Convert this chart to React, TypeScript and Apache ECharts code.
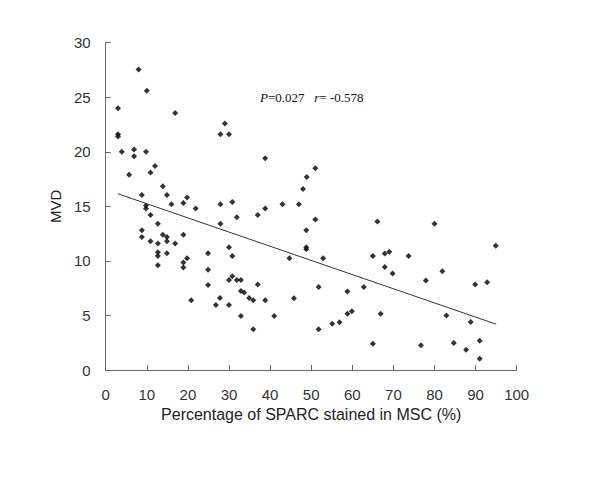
import React, { useEffect, useRef } from "react";
import * as echarts from "echarts";

const sparcPct: number[] = [
  8.0, 10.0, 3.0, 16.9, 3.0, 3.0, 27.9, 29.0, 30.0, 3.9, 6.9, 6.9, 9.8, 12.0, 10.9, 5.7, 13.9, 8.8, 14.9, 16.0,
  19.8, 18.9, 21.9, 9.8, 9.8, 27.9, 30.8, 10.9, 12.7, 31.9, 27.9, 8.8, 8.8, 10.9, 13.9, 14.9, 14.9, 12.7, 16.9, 18.9,
  12.7, 12.7, 14.9, 12.7, 18.9, 18.9, 19.8, 20.8, 24.9, 24.9, 24.9, 30.0, 30.8, 30.8, 30.0, 31.9, 32.9, 32.9, 33.7, 34.9,
  35.9, 27.8, 26.8, 30.0, 32.9, 35.9, 38.8, 51.0, 48.9, 48.0, 38.8, 43.0, 47.0, 37.0, 51.0, 48.8, 48.8, 48.8, 44.7, 52.9,
  66.1, 65.0, 67.9, 69.0, 67.9, 69.8, 73.7, 37.0, 38.8, 41.0, 45.8, 51.8, 51.8, 55.1, 56.9, 58.8, 58.8, 59.9, 62.8, 66.9,
  65.0, 80.0, 94.9, 81.9, 77.9, 89.9, 92.8, 82.9, 88.8, 76.7, 84.7, 87.7, 91.0, 91.0,
];
const mvd: number[] = [
  27.55, 25.6, 24.0, 23.55, 21.6, 21.4, 21.6, 22.6, 21.6, 20.0, 20.2, 19.6, 20.0, 18.7, 18.1, 17.9, 16.85, 16.05, 16.05, 15.2,
  15.8, 15.3, 14.8, 15.07, 14.8, 15.2, 15.4, 14.2, 13.4, 14.0, 13.4, 12.8, 12.2, 11.8, 12.4, 12.2, 11.8, 11.6, 11.6, 12.4,
  10.8, 10.46, 10.7, 9.6, 9.85, 9.4, 10.25, 6.4, 10.7, 9.2, 7.8, 11.25, 10.46, 8.6, 8.26, 8.26, 8.26, 7.25, 7.1, 6.6,
  6.4, 6.6, 5.96, 5.96, 4.95, 3.73, 19.4, 18.5, 17.7, 16.6, 14.8, 15.2, 15.2, 14.2, 13.8, 12.8, 11.25, 11.07, 10.25, 10.25,
  13.6, 10.46, 10.67, 10.85, 9.45, 8.84, 10.46, 7.83, 6.4, 4.95, 6.58, 7.6, 3.73, 4.25, 4.37, 7.2, 5.16, 5.38, 7.6, 5.16,
  2.4, 13.4, 11.4, 9.05, 8.2, 7.83, 8.04, 5.0, 4.4, 2.26, 2.47, 1.86, 2.69, 1.04,
];
const trendX: number[] = [3, 95];
const trendY: number[] = [16.15, 4.2];
const xTicks = { min: 0, max: 100, interval: 10 };
const yTicks = { min: 0, max: 30, interval: 5 };
const xTitle = "Percentage of SPARC stained in MSC (%)";
const yTitle = "MVD";
const statText = "{i|P}=0.027   {i|r}= -0.578";

export default function App() {
  const ref = useRef<HTMLDivElement>(null);
  useEffect(() => {
    if (!ref.current) return;
    const chart = echarts.init(ref.current, null, { renderer: "svg" });
    const axisCommon = {
      axisLine: { show: true, lineStyle: { color: "#666", width: 1 } },
      axisTick: { show: true, inside: true, length: 5, lineStyle: { color: "#666" } },
      splitLine: { show: false },
      axisLabel: { color: "#333", fontSize: 15, fontFamily: "Liberation Sans, Arial, sans-serif" },
      nameTextStyle: { color: "#222", fontSize: 16, fontFamily: "Liberation Sans, Arial, sans-serif" },
    };
    chart.setOption({
      animation: false,
      backgroundColor: "#fff",
      grid: { left: 97.7, right: 91.3, top: 34.7, bottom: 127 },
      xAxis: {
        type: "value",
        ...xTicks,
        ...axisCommon,
        axisLabel: { ...axisCommon.axisLabel, margin: 17 },
        name: xTitle,
        nameLocation: "middle",
        nameGap: 35,
      },
      yAxis: {
        type: "value",
        ...yTicks,
        ...axisCommon,
        axisLabel: { ...axisCommon.axisLabel, margin: 15 },
        name: yTitle,
        nameLocation: "middle",
        nameGap: 31,
        nameRotate: 90,
        nameTextStyle: { ...axisCommon.nameTextStyle, fontSize: 15 },
      },
      graphic: [
        {
          type: "text",
          left: 252,
          top: 83,
          style: {
            text: statText,
            fill: "#111",
            font: "13px 'Liberation Serif', 'Times New Roman', serif",
            rich: {
              i: { fontStyle: "italic", fontFamily: "Liberation Serif", fontSize: 13, fill: "#111" },
            },
          },
        },
      ],
      series: [
        {
          type: "scatter",
          data: sparcPct.map((x, i) => [x, mvd[i]]),
          symbol: "diamond",
          symbolSize: 6,
          itemStyle: { color: "#000" },
        },
        {
          type: "line",
          data: trendX.map((x, i) => [x, trendY[i]]),
          showSymbol: false,
          symbol: "none",
          lineStyle: { color: "#333", width: 1 },
        },
      ],
    });
    return () => chart.dispose();
  }, []);
  return <div ref={ref} style={{ width: 600, height: 489 }} />;
}
